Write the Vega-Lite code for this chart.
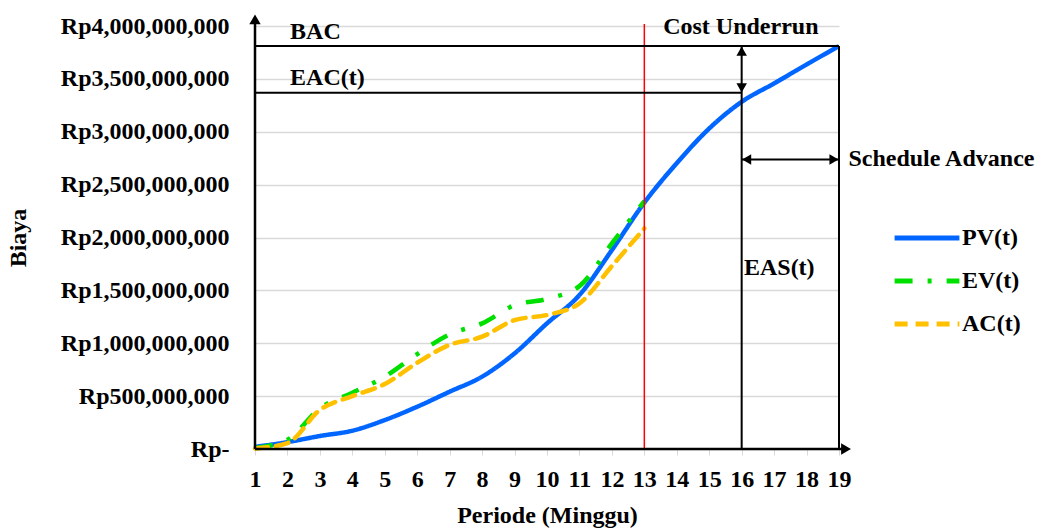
{
  "$schema": "https://vega.github.io/schema/vega-lite/v6.json",
  "autosize": "none",
  "width": 584,
  "height": 423,
  "padding": {"left": 255, "top": 26, "right": 208, "bottom": 81},
  "background": "white",
  "config": {
    "font": "Liberation Serif",
    "view": {"stroke": null},
    "text": {"font": "Liberation Serif", "fontWeight": "bold", "fontSize": 24, "color": "#000000"},
    "axis": {"labelFont": "Liberation Serif", "titleFont": "Liberation Serif", "labelFontWeight": "bold", "titleFontWeight": "bold", "labelFontSize": 24, "titleFontSize": 24, "labelColor": "#000000", "titleColor": "#000000", "labelOverlap": false, "labelFlush": false},
    "axisX": {"labelOverlap": false, "tickCount": 19}
  },
  "datasets": {
    "one": [{"k": 0}],
    "kurva": [
      {"periode": 1, "series": "PV(t)", "biaya": 20000000},
      {"periode": 2, "series": "PV(t)", "biaya": 65000000},
      {"periode": 3, "series": "PV(t)", "biaya": 123000000},
      {"periode": 4, "series": "PV(t)", "biaya": 173000000},
      {"periode": 5, "series": "PV(t)", "biaya": 274000000},
      {"periode": 6, "series": "PV(t)", "biaya": 400000000},
      {"periode": 7, "series": "PV(t)", "biaya": 542000000},
      {"periode": 8, "series": "PV(t)", "biaya": 684000000},
      {"periode": 9, "series": "PV(t)", "biaya": 904000000},
      {"periode": 10, "series": "PV(t)", "biaya": 1188000000},
      {"periode": 11, "series": "PV(t)", "biaya": 1456000000},
      {"periode": 12, "series": "PV(t)", "biaya": 1881000000},
      {"periode": 13, "series": "PV(t)", "biaya": 2330000000},
      {"periode": 14, "series": "PV(t)", "biaya": 2703000000},
      {"periode": 15, "series": "PV(t)", "biaya": 3031000000},
      {"periode": 16, "series": "PV(t)", "biaya": 3283000000},
      {"periode": 17, "series": "PV(t)", "biaya": 3457000000},
      {"periode": 18, "series": "PV(t)", "biaya": 3636000000},
      {"periode": 19, "series": "PV(t)", "biaya": 3810000000},
      {"periode": 1, "series": "EV(t)", "biaya": 10000000},
      {"periode": 2, "series": "EV(t)", "biaya": 88000000},
      {"periode": 3, "series": "EV(t)", "biaya": 385000000},
      {"periode": 4, "series": "EV(t)", "biaya": 532000000},
      {"periode": 5, "series": "EV(t)", "biaya": 684000000},
      {"periode": 6, "series": "EV(t)", "biaya": 898000000},
      {"periode": 7, "series": "EV(t)", "biaya": 1084000000},
      {"periode": 8, "series": "EV(t)", "biaya": 1188000000},
      {"periode": 9, "series": "EV(t)", "biaya": 1360000000},
      {"periode": 10, "series": "EV(t)", "biaya": 1420000000},
      {"periode": 11, "series": "EV(t)", "biaya": 1540000000},
      {"periode": 12, "series": "EV(t)", "biaya": 1944000000},
      {"periode": 13, "series": "EV(t)", "biaya": 2345000000},
      {"periode": 1, "series": "AC(t)", "biaya": 5000000},
      {"periode": 2, "series": "AC(t)", "biaya": 55000000},
      {"periode": 3, "series": "AC(t)", "biaya": 370000000},
      {"periode": 4, "series": "AC(t)", "biaya": 500000000},
      {"periode": 5, "series": "AC(t)", "biaya": 614000000},
      {"periode": 6, "series": "AC(t)", "biaya": 816000000},
      {"periode": 7, "series": "AC(t)", "biaya": 985000000},
      {"periode": 8, "series": "AC(t)", "biaya": 1062000000},
      {"periode": 9, "series": "AC(t)", "biaya": 1219000000},
      {"periode": 10, "series": "AC(t)", "biaya": 1267000000},
      {"periode": 11, "series": "AC(t)", "biaya": 1377000000},
      {"periode": 12, "series": "AC(t)", "biaya": 1730000000},
      {"periode": 13, "series": "AC(t)", "biaya": 2086000000}
    ]
  },
  "layer": [
    {
      "data": {"name": "kurva"},
      "transform": [{"filter": "datum.series == 'PV(t)'"}],
      "mark": {"type": "line", "strokeWidth": 4.5, "interpolate": "monotone"},
      "encoding": {
        "x": {"field": "periode", "type": "quantitative",
          "scale": {"domain": [1, 19], "nice": false, "zero": false},
          "axis": {"title": "Periode (Minggu)", "values": [1,2,3,4,5,6,7,8,9,10,11,12,13,14,15,16,17,18,19], "format": "d", "grid": false, "domain": false, "ticks": true, "tickColor": "#d9d9d9", "tickSize": 6, "tickWidth": 1, "labelPadding": 12, "titlePadding": 12, "labelFlush": false, "labelOverlap": false}},
        "y": {"field": "biaya", "type": "quantitative",
          "scale": {"domain": [0, 4000000000], "nice": false},
          "axis": {"title": "Biaya", "values": [0, 500000000, 1000000000, 1500000000, 2000000000, 2500000000, 3000000000, 3500000000, 4000000000], "labelExpr": "datum.value == 0 ? 'Rp-\u00a0\u00a0' : 'Rp' + format(datum.value, ',')", "grid": true, "gridColor": "#d9d9d9", "gridWidth": 1.3, "domain": false, "ticks": false, "labelPadding": 26, "titlePadding": 30, "labelFlush": false, "labelOverlap": false}},
        "color": {"field": "series", "type": "nominal",
          "scale": {"domain": ["PV(t)", "EV(t)", "AC(t)"], "range": ["#0066ff", "#00e000", "#ffc000"]},
          "legend": {"orient": "none", "legendX": 637, "legendY": 200, "title": null, "symbolType": "stroke", "symbolSize": 4200, "symbolStrokeWidth": 5, "labelFont": "Liberation Serif", "labelFontSize": 24, "labelFontWeight": "bold", "labelColor": "#000000", "labelOffset": 0, "clipHeight": 24, "rowPadding": 19, "padding": 0}},
        "strokeDash": {"field": "series", "type": "nominal",
          "scale": {"domain": ["PV(t)", "EV(t)", "AC(t)"], "range": [[1, 0], [18, 15, 4, 15], [13, 8]]}}
      }
    },
    {
      "data": {"name": "kurva"},
      "transform": [{"filter": "datum.series == 'EV(t)'"}],
      "mark": {"type": "line", "strokeWidth": 4.5, "interpolate": "monotone"},
      "encoding": {
        "x": {"field": "periode", "type": "quantitative"},
        "y": {"field": "biaya", "type": "quantitative"},
        "color": {"field": "series", "type": "nominal"},
        "strokeDash": {"field": "series", "type": "nominal"}
      }
    },
    {
      "data": {"name": "kurva"},
      "transform": [{"filter": "datum.series == 'AC(t)'"}],
      "mark": {"type": "line", "strokeWidth": 4.5, "interpolate": "monotone", "strokeCap": "round"},
      "encoding": {
        "x": {"field": "periode", "type": "quantitative"},
        "y": {"field": "biaya", "type": "quantitative"},
        "color": {"field": "series", "type": "nominal"},
        "strokeDash": {"field": "series", "type": "nominal"}
      }
    },
    {
      "data": {"name": "one"},
      "mark": {"type": "rule", "color": "#ff0000", "strokeWidth": 1.5},
      "encoding": {"x": {"datum": 13}, "y": {"datum": 0}, "y2": {"datum": 4020000000}}
    },
    {
      "data": {"name": "one"},
      "mark": {"type": "rule", "color": "#000000", "strokeWidth": 2},
      "encoding": {"x": {"datum": 1}, "x2": {"datum": 19}, "y": {"datum": 3810000000}}
    },
    {
      "data": {"name": "one"},
      "mark": {"type": "rule", "color": "#000000", "strokeWidth": 2},
      "encoding": {"x": {"datum": 1}, "x2": {"datum": 16}, "y": {"datum": 3368000000}}
    },
    {
      "data": {"name": "one"},
      "mark": {"type": "rule", "color": "#000000", "strokeWidth": 2},
      "encoding": {"x": {"datum": 16}, "y": {"datum": 0}, "y2": {"datum": 3810000000}}
    },
    {
      "data": {"name": "one"},
      "mark": {"type": "rule", "color": "#000000", "strokeWidth": 2},
      "encoding": {"x": {"datum": 19}, "y": {"datum": 0}, "y2": {"datum": 3810000000}}
    },
    {
      "data": {"name": "one"},
      "mark": {"type": "rule", "color": "#000000", "strokeWidth": 2},
      "encoding": {"x": {"datum": 16}, "x2": {"datum": 19}, "y": {"datum": 2738000000}}
    },
    {
      "data": {"name": "one"},
      "mark": {"type": "rule", "color": "#000000", "strokeWidth": 2.5},
      "encoding": {"x": {"datum": 1}, "y": {"datum": 0}, "y2": {"datum": 4080000000}}
    },
    {
      "data": {"name": "one"},
      "mark": {"type": "rule", "color": "#000000", "strokeWidth": 2.5},
      "encoding": {"x": {"datum": 1}, "x2": {"datum": 19.25}, "y": {"datum": 0}}
    },
    {
      "data": {"name": "one"},
      "mark": {"type": "point", "shape": "triangle-up", "filled": true, "color": "#000000", "opacity": 1, "size": 130, "yOffset": 4},
      "encoding": {"x": {"datum": 1}, "y": {"datum": 4100000000}}
    },
    {
      "data": {"name": "one"},
      "mark": {"type": "point", "shape": "triangle-right", "filled": true, "color": "#000000", "opacity": 1, "size": 130, "xOffset": -4},
      "encoding": {"x": {"datum": 19.34}, "y": {"datum": 0}}
    },
    {
      "data": {"name": "one"},
      "mark": {"type": "point", "shape": "triangle-up", "filled": true, "color": "#000000", "opacity": 1, "size": 110, "yOffset": 5},
      "encoding": {"x": {"datum": 16}, "y": {"datum": 3810000000}}
    },
    {
      "data": {"name": "one"},
      "mark": {"type": "point", "shape": "triangle-down", "filled": true, "color": "#000000", "opacity": 1, "size": 110, "yOffset": -5},
      "encoding": {"x": {"datum": 16}, "y": {"datum": 3368000000}}
    },
    {
      "data": {"name": "one"},
      "mark": {"type": "point", "shape": "triangle-left", "filled": true, "color": "#000000", "opacity": 1, "size": 110, "xOffset": 5},
      "encoding": {"x": {"datum": 16}, "y": {"datum": 2738000000}}
    },
    {
      "data": {"name": "one"},
      "mark": {"type": "point", "shape": "triangle-right", "filled": true, "color": "#000000", "opacity": 1, "size": 110, "xOffset": -5},
      "encoding": {"x": {"datum": 19}, "y": {"datum": 2738000000}}
    },
    {
      "data": {"name": "one"},
      "mark": {"type": "text", "text": "BAC", "align": "left", "baseline": "alphabetic"},
      "encoding": {"x": {"datum": 2.08}, "y": {"datum": 3873000000}}
    },
    {
      "data": {"name": "one"},
      "mark": {"type": "text", "text": "EAC(t)", "align": "left", "baseline": "alphabetic"},
      "encoding": {"x": {"datum": 2.08}, "y": {"datum": 3441000000}}
    },
    {
      "data": {"name": "one"},
      "mark": {"type": "text", "text": "Cost Underrun", "align": "left", "baseline": "alphabetic"},
      "encoding": {"x": {"datum": 13.58}, "y": {"datum": 3929000000}}
    },
    {
      "data": {"name": "one"},
      "mark": {"type": "text", "text": "Schedule Advance", "align": "left", "baseline": "alphabetic"},
      "encoding": {"x": {"datum": 19.29}, "y": {"datum": 2675000000}}
    },
    {
      "data": {"name": "one"},
      "mark": {"type": "text", "text": "EAS(t)", "align": "left", "baseline": "alphabetic"},
      "encoding": {"x": {"datum": 16.07}, "y": {"datum": 1645000000}}
    }
  ]
}
